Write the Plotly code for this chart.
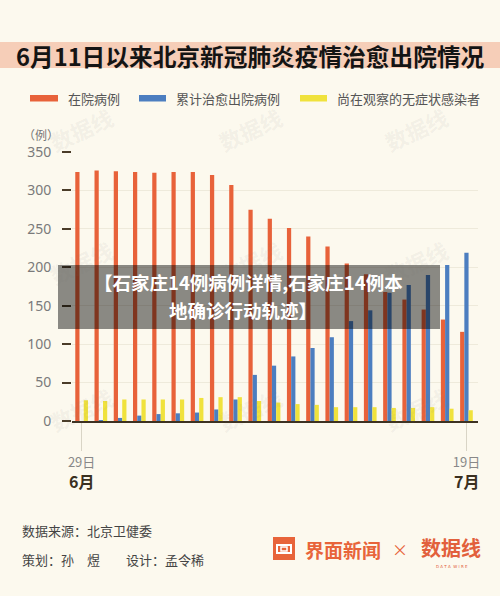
import plotly.graph_objects as go

# ---------------- data ----------------
dates = ["6月29日", "6月30日", "7月1日", "7月2日", "7月3日", "7月4日", "7月5日",
         "7月6日", "7月7日", "7月8日", "7月9日", "7月10日", "7月11日", "7月12日",
         "7月13日", "7月14日", "7月15日", "7月16日", "7月17日", "7月18日", "7月19日"]
in_hospital = [324, 326, 325, 324, 323, 324, 324, 320, 307, 275, 263, 251, 240, 227,
               205, 191, 168, 158, 145, 132, 116]
cured_total = [0, 1, 4, 7, 9, 10, 11, 15, 28, 60, 72, 84, 95, 109,
               130, 144, 167, 177, 190, 203, 219]
asymptomatic = [27, 26, 28, 28, 28, 28, 30, 31, 31, 26, 24, 22, 21, 18,
                18, 18, 17, 17, 18, 16, 14]
series_names = ["在院病例", "累计治愈出院病例", "尚在观察的无症状感染者"]
series_colors = ["#E8623A", "#4C7EC0", "#F0E23C"]
y_ticks = [0, 50, 100, 150, 200, 250, 300, 350]
x_tick_dates = ["6月29日", "7月19日"]
x_tick_text = ["29日", "19日"]
month_text = ["6月", "7月"]

title_text = "6月11日以来北京新冠肺炎疫情治愈出院情况"
overlay_lines = ["【石家庄14例病例详情,石家庄14例本", "地确诊行动轨迹】"]
source_text = "数据来源：北京卫健委"
credit_text = "策划：孙　煜　　设计：孟令稀"

FONT = "Noto Sans CJK SC, Noto Sans, sans-serif"
BG = "#FCF9EE"

# ------------- pixel helpers (layout only) -------------
W, H = 500, 596
L, R, T, B = 72, 478, 152, 421
def px(x):
    return (x - L) / (R - L)
def py(y):
    return (B - y) / (B - T)

fig = go.Figure()
for name, vals, col in zip(series_names, [in_hospital, cured_total, asymptomatic], series_colors):
    fig.add_trace(go.Bar(x=dates, y=vals, name=name, marker=dict(color=col, line=dict(width=0)),
                         showlegend=False))

shapes = []
annotations = []

# watermarks
for wx in [42, 250, 455]:
    for wy in [98, 262, 440]:
        annotations.append(dict(x=px(wx), y=py(wy), xref="paper", yref="paper",
                                text="<b>数据线</b>", showarrow=False, textangle=-25,
                                font=dict(family=FONT, size=22, color="rgba(120,120,110,0.08)")))

# title band
shapes.append(dict(type="rect", xref="paper", yref="paper", x0=px(0), x1=px(500),
                   y0=py(68), y1=py(42), fillcolor="#F6CEB8", line=dict(width=0), layer="below"))
annotations.append(dict(x=px(250), y=py(55.5), xref="paper", yref="paper", text="<b>" + title_text + "</b>",
                        showarrow=False, xanchor="center", yanchor="middle",
                        font=dict(family=FONT, size=23.7, color="#141414")))

# legend
leg_rects = [(30, 58), (139, 166), (300, 327)]
leg_text_x = [66, 174, 335]
for (x0, x1), tx, name, col in zip(leg_rects, leg_text_x, series_names, series_colors):
    shapes.append(dict(type="rect", xref="paper", yref="paper", x0=px(x0), x1=px(x1),
                       y0=py(101.5), y1=py(95), fillcolor=col, line=dict(width=0)))
    annotations.append(dict(x=px(tx), y=py(98.5), xref="paper", yref="paper", text=name,
                            showarrow=False, xanchor="left", yanchor="middle",
                            font=dict(family=FONT, size=13, color="#555555")))

# unit label
annotations.append(dict(x=px(41), y=py(134.5), xref="paper", yref="paper", text="（例）",
                        showarrow=False, xanchor="center", yanchor="middle",
                        font=dict(family=FONT, size=12, color="#777777")))

# month labels
for d, m in zip(x_tick_dates, month_text):
    annotations.append(dict(x=d, y=py(481), xref="x", yref="paper", text="<b>" + m + "</b>",
                            showarrow=False, xanchor="center", yanchor="middle",
                            font=dict(family=FONT, size=16, color="#3A3020")))

# overlay banner
shapes.append(dict(type="rect", xref="paper", yref="paper", x0=px(58), x1=px(440),
                   y0=py(329), y1=py(265), fillcolor="rgba(0,0,0,0.45)", line=dict(width=0),
                   layer="above"))
for line, cx, cy in zip(overlay_lines, [248, 243], [282, 309.5]):
    annotations.append(dict(x=px(cx), y=py(cy), xref="paper", yref="paper",
                            text="<b>" + line + "</b>", showarrow=False,
                            xanchor="center", yanchor="middle",
                            font=dict(family=FONT, size=18.5, color="#FFFFFF")))

# footer
annotations.append(dict(x=px(20), y=py(530), xref="paper", yref="paper", text=source_text,
                        showarrow=False, xanchor="left", yanchor="middle",
                        font=dict(family=FONT, size=13, color="#444444")))
annotations.append(dict(x=px(20), y=py(559), xref="paper", yref="paper", text=credit_text,
                        showarrow=False, xanchor="left", yanchor="middle",
                        font=dict(family=FONT, size=13, color="#444444")))

# logo: 界面新闻 icon
LOGO = "#E8643A"
shapes.append(dict(type="rect", xref="paper", yref="paper", x0=px(273), x1=px(295),
                   y0=py(560), y1=py(537), fillcolor=LOGO, line=dict(width=0)))
shapes.append(dict(type="rect", xref="paper", yref="paper", x0=px(277), x1=px(291),
                   y0=py(553), y1=py(545), fillcolor="rgba(0,0,0,0)",
                   line=dict(color="#FFFFFF", width=2)))
shapes.append(dict(type="rect", xref="paper", yref="paper", x0=px(281), x1=px(287),
                   y0=py(551), y1=py(547), fillcolor="rgba(0,0,0,0)",
                   line=dict(color="#FFFFFF", width=1.5)))
annotations.append(dict(x=px(303), y=py(549), xref="paper", yref="paper", text="<b>界面新闻</b>",
                        showarrow=False, xanchor="left", yanchor="middle",
                        font=dict(family=FONT, size=19, color=LOGO)))
annotations.append(dict(x=px(400), y=py(549), xref="paper", yref="paper", text="×",
                        showarrow=False, xanchor="center", yanchor="middle",
                        font=dict(family=FONT, size=16, color=LOGO)))
annotations.append(dict(x=px(451), y=py(547), xref="paper", yref="paper", text="<b>数据线</b>",
                        showarrow=False, xanchor="center", yanchor="middle",
                        font=dict(family=FONT, size=20, color="#E2603C")))
annotations.append(dict(x=px(452), y=py(566), xref="paper", yref="paper", text="D A T A  W I R E",
                        showarrow=False, xanchor="center", yanchor="middle",
                        font=dict(family="DejaVu Sans", size=4, color="#E2603C")))

fig.update_layout(
    width=W, height=H,
    margin=dict(l=L, r=W - R, t=T, b=H - B, pad=0),
    paper_bgcolor=BG, plot_bgcolor=BG,
    barmode="group", bargap=0.34, bargroupgap=0,
    font=dict(family=FONT),
    shapes=shapes, annotations=annotations,
    showlegend=False,
    xaxis=dict(
        type="category", categoryorder="array", categoryarray=dates,
        range=[-0.5, 20.6], tickmode="array", tickvals=x_tick_dates, ticktext=x_tick_text,
        ticks="outside", ticklen=28, tickwidth=1, tickcolor="#D9D5C6",
        tickfont=dict(family=FONT, size=13, color="#888888"),
        showgrid=False, showline=True, linecolor="#3D3222", linewidth=2,
        zeroline=False, fixedrange=True,
    ),
    yaxis=dict(
        range=[0, 350], tickmode="array", tickvals=y_ticks,
        ticks="outside", ticklen=9, tickwidth=2, tickcolor="#4A3C28",
        tickfont=dict(family="Noto Sans, sans-serif", size=14, color="#7A7A7A"),
        ticklabelstandoff=8,
        showgrid=True, gridcolor="#EEEADB", gridwidth=1,
        showline=False, zeroline=False, fixedrange=True,
    ),
)

fig.write_html(
    "out.html",
    config={"displayModeBar": False},
    post_script="document.body.style.margin='0';document.body.style.background='#FCF9EE';"
                "document.documentElement.style.overflow='hidden';",
)
